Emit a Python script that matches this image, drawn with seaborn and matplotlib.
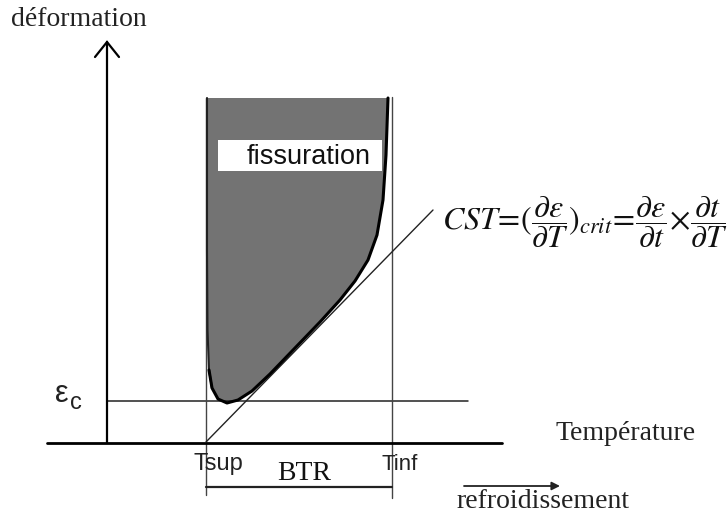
import matplotlib
matplotlib.use('Agg')
import matplotlib.pyplot as plt
import seaborn as sns
import pandas as pd

# schematic drawn in picture units (x to the right, y downwards)

# frontier of the cracking zone (fissuration)
courbe_x = [207, 207, 207.5, 209, 212, 218, 227, 238, 252, 270, 295, 320, 340, 355, 368, 377, 383, 386, 388]
courbe_y = [98, 250, 330, 370, 388, 399, 403, 400, 391, 374, 348, 322, 300, 281, 260, 235, 200, 155, 98]

# tangent line (CST)
tangente_x = [206, 433]
tangente_y = [442, 210]

# temperatures and levels
t_sup = 206
t_inf = 392
eps_c = 401
y_axe = 443
x_axe = 107
y_btr = 487

sns.set_theme(style='white')
plt.rcParams['font.family'] = ['Liberation Serif', 'DejaVu Serif']
plt.rcParams['mathtext.fontset'] = 'stix'

fig = plt.figure(figsize=(7.28, 5.24), dpi=100)
ax = fig.add_axes([0, 0, 1, 1])
ax.set_xlim(0, 728)
ax.set_ylim(524, 0)
ax.axis('off')

# zone grise
ax.fill(courbe_x, courbe_y, color='#737373', lw=0, zorder=1)
df = pd.DataFrame({'x': courbe_x, 'y': courbe_y})
sns.lineplot(data=df.iloc[3:], x='x', y='y', sort=False, estimator=None, color='black',
             lw=2.2, ax=ax, zorder=4, solid_joinstyle='round', solid_capstyle='round')
# bord gauche, plus fin
sns.lineplot(data=df.iloc[:5], x='x', y='y', sort=False, estimator=None, color='#222222',
             lw=1.5, ax=ax, zorder=3, solid_joinstyle='round', solid_capstyle='round')

# boite fissuration
ax.add_patch(plt.Rectangle((218, 140), 164, 31, facecolor='white', edgecolor='none', zorder=5))
ax.text(309, 157, 'fissuration', fontsize=19.5, family=['Liberation Sans', 'DejaVu Sans'],
        ha='center', va='center', color='#111111', zorder=6)

# axes
ax.plot([47, 502], [y_axe, y_axe], color='black', lw=2.0, zorder=3)
ax.plot([x_axe, x_axe], [y_axe, 42], color='black', lw=1.6, zorder=3)
ax.plot([95, x_axe, 119], [57, 42, 57], color='black', lw=1.6, zorder=3,
        solid_joinstyle='miter')

# lignes fines
ax.plot([x_axe, 468], [eps_c, eps_c], color='#222222', lw=1.1, zorder=2)
ax.plot([t_sup, t_sup], [98, 495], color='#444444', lw=1.0, zorder=2)
ax.plot([t_inf, t_inf], [97, 498], color='#444444', lw=1.0, zorder=2)
ax.plot(tangente_x, tangente_y, color='#222222', lw=1.0, zorder=3)
ax.plot([t_sup, t_inf], [y_btr, y_btr], color='#222222', lw=1.6, zorder=3)

# fleche refroidissement
ax.annotate('', xy=(560, 486), xytext=(464, 486),
            arrowprops=dict(arrowstyle='-|>', color='#222222', lw=1.3,
                            mutation_scale=12, shrinkA=0, shrinkB=0))

# textes
ax.text(11, 20, 'déformation', fontsize=20, ha='left', va='center', color='#222222')
ax.text(556, 434, 'Température', fontsize=20, ha='left', va='center', color='#222222')
ax.text(456, 502, 'refroidissement', fontsize=20, ha='left', va='center', color='#222222')
ax.text(304, 473, 'BTR', fontsize=20, ha='center', va='center', color='#111111')
sans = ['Liberation Sans', 'DejaVu Sans']
ax.text(218, 464, 'Tsup', fontsize=17, family=sans, ha='center', va='center', color='#222222')
ax.text(400, 464, 'Tinf', fontsize=16, family=sans, ha='center', va='center', color='#222222')
ax.text(62, 394, 'ε', fontsize=22, family=sans, ha='center', va='center', color='#222222')
ax.text(76, 403, 'c', fontsize=17, family=sans, ha='center', va='center', color='#222222')

ax.text(442, 222,
        r'$CST\!=\!(\dfrac{\partial\varepsilon}{\partial T})_{crit}\!=\!'
        r'\dfrac{\partial\varepsilon}{\partial t}\!\times\!\dfrac{\partial t}{\partial T}$',
        fontsize=23, ha='left', va='center', color='#111111')

fig.savefig('out.png', dpi=100)
